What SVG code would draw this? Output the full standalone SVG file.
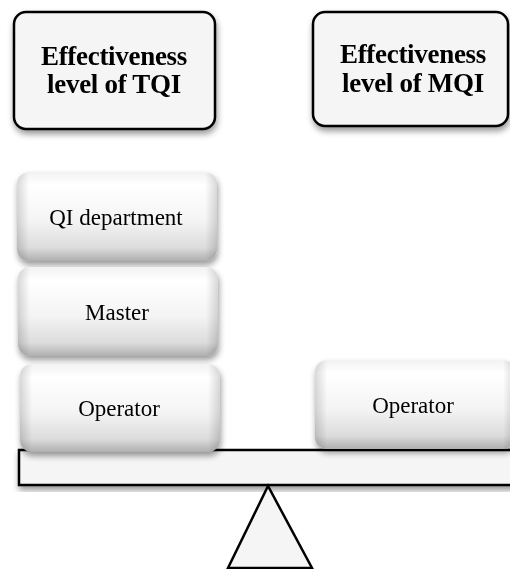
<svg xmlns="http://www.w3.org/2000/svg" width="510" height="569" viewBox="0 0 510 569">
<style>
.hdr{fill:#f5f5f5;stroke:#000;stroke-width:2.5}
.blk{fill:url(#gv)}
.blkh{fill:url(#gh)}
.ht{font-family:"Liberation Serif",serif;font-weight:bold;font-size:27px;letter-spacing:-0.3px;fill:#000;text-anchor:middle}
.bt{font-family:"Liberation Serif",serif;font-size:23px;fill:#000;text-anchor:middle}
.ln{fill:#f5f5f5;stroke:#000;stroke-width:2.5}
</style>
<defs>
<filter id="sh" x="-10%" y="-10%" width="125%" height="130%">
<feGaussianBlur in="SourceAlpha" stdDeviation="3"/>
<feOffset dx="1" dy="4" result="b"/>
<feComponentTransfer><feFuncA type="linear" slope="0.4"/></feComponentTransfer>
<feMerge><feMergeNode/><feMergeNode in="SourceGraphic"/></feMerge>
</filter>
<linearGradient id="gv" x1="0" y1="0" x2="0" y2="1">
<stop offset="0" stop-color="#f2f2f2"/>
<stop offset="0.15" stop-color="#ffffff"/>
<stop offset="0.55" stop-color="#f4f4f4"/>
<stop offset="0.85" stop-color="#dcdcdc"/>
<stop offset="1" stop-color="#afafaf"/>
</linearGradient>
<linearGradient id="gh" x1="0" y1="0" x2="1" y2="0">
<stop offset="0" stop-color="#000" stop-opacity="0.15"/>
<stop offset="0.06" stop-color="#000" stop-opacity="0"/>
<stop offset="0.94" stop-color="#000" stop-opacity="0"/>
<stop offset="1" stop-color="#000" stop-opacity="0.15"/>
</linearGradient>
</defs>
<g id="scale">
<rect class="ln" x="19" y="450" width="500" height="35" filter="url(#sh)"/>
<polygon class="ln" points="268,486 228,568 312,568"/>
</g>
<g id="tqi" filter="url(#sh)">
<rect class="hdr" x="14" y="12" width="201" height="117" rx="12"/>
<text class="ht" x="114" y="65">Effectiveness</text>
<text class="ht" x="114" y="93">level of TQI</text>
</g>
<g id="mqi" filter="url(#sh)">
<rect class="hdr" x="313" y="12" width="195" height="114" rx="12"/>
<text class="ht" x="413" y="63">Effectiveness</text>
<text class="ht" x="413" y="92">level of MQI</text>
</g>
<g id="qi" filter="url(#sh)">
<rect class="blk" x="17" y="172" width="200" height="89" rx="12"/>
<rect class="blkh" x="17" y="172" width="200" height="89" rx="12"/>
<text class="bt" x="116" y="225">QI department</text>
</g>
<g id="master" filter="url(#sh)">
<rect class="blk" x="18" y="267" width="200" height="89" rx="12"/>
<rect class="blkh" x="18" y="267" width="200" height="89" rx="12"/>
<text class="bt" x="117" y="320">Master</text>
</g>
<g id="op1" filter="url(#sh)">
<rect class="blk" x="20" y="364" width="200" height="88" rx="12"/>
<rect class="blkh" x="20" y="364" width="200" height="88" rx="12"/>
<text class="bt" x="119" y="416">Operator</text>
</g>
<g id="op2" filter="url(#sh)">
<rect class="blk" x="315" y="360" width="200" height="89" rx="12"/>
<rect class="blkh" x="315" y="360" width="200" height="89" rx="12"/>
<text class="bt" x="413" y="413">Operator</text>
</g>
</svg>
